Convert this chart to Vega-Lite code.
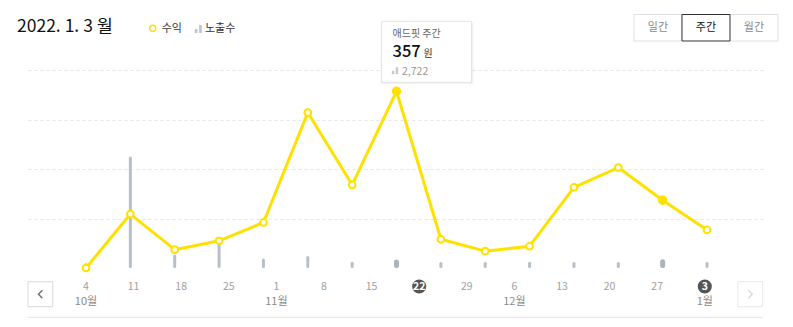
{
  "$schema": "https://vega.github.io/schema/vega-lite/v6.json",
  "width": 735,
  "height": 198,
  "autosize": {"type": "none"},
  "padding": {"left": 28, "top": 70, "right": 30, "bottom": 59},
  "background": "white",
  "config": {"font": "Noto Sans CJK KR", "view": {"stroke": null}},
  "datasets": {
    "weeks": [
      {"i": 0, "rev": 0, "imp": 1500},
      {"i": 1, "rev": 109, "imp": 50000},
      {"i": 2, "rev": 37, "imp": 5500},
      {"i": 3, "rev": 55, "imp": 11200},
      {"i": 4, "rev": 92, "imp": 3600},
      {"i": 5, "rev": 314, "imp": 4800},
      {"i": 6, "rev": 168, "imp": 2150},
      {"i": 7, "rev": 357, "imp": 2722},
      {"i": 8, "rev": 58, "imp": 2050},
      {"i": 9, "rev": 34, "imp": 2000},
      {"i": 10, "rev": 44, "imp": 2150},
      {"i": 11, "rev": 163, "imp": 2100},
      {"i": 12, "rev": 203, "imp": 2050},
      {"i": 13, "rev": 137, "imp": 2800},
      {"i": 14, "rev": 77, "imp": 2100}
    ],
    "ticks": [
      {"k": 0, "day": "4", "month": "10월"},
      {"k": 1, "day": "11", "month": null},
      {"k": 2, "day": "18", "month": null},
      {"k": 3, "day": "25", "month": null},
      {"k": 4, "day": "1", "month": "11월"},
      {"k": 5, "day": "8", "month": null},
      {"k": 6, "day": "15", "month": null},
      {"k": 7, "day": "22", "month": null},
      {"k": 8, "day": "29", "month": null},
      {"k": 9, "day": "6", "month": "12월"},
      {"k": 10, "day": "13", "month": null},
      {"k": 11, "day": "20", "month": null},
      {"k": 12, "day": "27", "month": null},
      {"k": 13, "day": "3", "month": "1월"}
    ]
  },
  "layer": [
    {
      "data": {"name": "weeks"},
      "mark": {"type": "rule", "strokeWidth": 3, "strokeCap": "round", "color": "#b6bfca"},
      "encoding": {
        "x": {"field": "i", "type": "quantitative", "scale": {"domain": [-1.3075, 15.262], "nice": false, "zero": false}, "axis": null},
        "y": {"field": "imp", "type": "quantitative", "scale": {"domain": [0, 90000], "nice": false, "zero": false}, "axis": null},
        "y2": {"datum": 700}
      }
    },
    {
      "data": {"name": "weeks"},
      "transform": [{"filter": "datum.i == 7 || datum.i == 13"}],
      "mark": {"type": "rule", "strokeWidth": 5, "strokeCap": "round", "color": "#aab4c0"},
      "encoding": {
        "x": {"field": "i", "type": "quantitative", "scale": {"domain": [-1.3075, 15.262], "nice": false, "zero": false}, "axis": null},
        "y": {"field": "imp", "type": "quantitative", "scale": {"domain": [0, 90000], "nice": false, "zero": false}, "axis": null},
        "y2": {"datum": 1100}
      }
    },
    {
      "data": {"name": "weeks"},
      "mark": {"type": "line", "color": "#ffe100", "strokeWidth": 3, "strokeJoin": "round"},
      "encoding": {
        "x": {"field": "i", "type": "quantitative", "scale": {"domain": [-1.3075, 15.262], "nice": false, "zero": false}, "axis": null},
        "y": {"field": "rev", "type": "quantitative", "scale": {"domain": [0, 400], "nice": false, "zero": false},
          "axis": {"grid": true, "values": [100, 200, 300, 400], "labels": false, "ticks": false, "domain": false, "title": null, "gridColor": "#e6e6e6", "gridDash": [3, 3]}}
      }
    },
    {
      "data": {"name": "weeks"},
      "mark": {"type": "point", "shape": "circle", "filled": true, "fill": "white", "stroke": "#ffe100", "strokeWidth": 2, "size": 45, "opacity": 1},
      "encoding": {
        "x": {"field": "i", "type": "quantitative", "scale": {"domain": [-1.3075, 15.262], "nice": false, "zero": false}, "axis": null},
        "y": {"field": "rev", "type": "quantitative", "scale": {"domain": [0, 400], "nice": false, "zero": false}, "axis": null}
      }
    },
    {
      "data": {"name": "weeks"},
      "transform": [{"filter": "datum.i == 7 || datum.i == 13"}],
      "mark": {"type": "point", "shape": "circle", "filled": true, "fill": "#ffe100", "stroke": "#ffe100", "strokeWidth": 2, "size": 55, "opacity": 1},
      "encoding": {
        "x": {"field": "i", "type": "quantitative", "scale": {"domain": [-1.3075, 15.262], "nice": false, "zero": false}, "axis": null},
        "y": {"field": "rev", "type": "quantitative", "scale": {"domain": [0, 400], "nice": false, "zero": false}, "axis": null}
      }
    },
    {
      "data": {"name": "weeks"},
      "transform": [{"filter": "datum.i == 7"}],
      "encoding": {
        "x": {"field": "i", "type": "quantitative", "scale": {"domain": [-1.3075, 15.262], "nice": false, "zero": false}, "axis": null},
        "y": {"field": "rev", "type": "quantitative", "scale": {"domain": [0, 400], "nice": false, "zero": false}, "axis": null}
      },
      "layer": [
        {
          "mark": {"type": "rect", "fill": "#000000", "opacity": 0.05, "cornerRadius": 2, "xOffset": -16, "x2Offset": 77, "yOffset": -69, "y2Offset": -7},
          "encoding": {"x2": {"field": "i"}, "y2": {"field": "rev"}}
        },
        {
          "mark": {"type": "rect", "fill": "white", "stroke": "#e2e5e9", "strokeWidth": 1, "xOffset": -15, "x2Offset": 75, "yOffset": -70, "y2Offset": -9},
          "encoding": {"x2": {"field": "i"}, "y2": {"field": "rev"}}
        },
        {
          "mark": {"type": "text", "text": "애드핏 주간", "align": "left", "baseline": "middle", "dx": -4, "dy": -57, "fontSize": 10, "color": "#666666"}
        },
        {
          "mark": {"type": "text", "align": "left", "baseline": "alphabetic", "dx": -4, "dy": -34, "fontSize": 16.5, "fontWeight": 500, "color": "#111111"},
          "encoding": {"text": {"field": "rev", "type": "quantitative"}}
        },
        {
          "mark": {"type": "text", "text": "원", "align": "left", "baseline": "alphabetic", "dx": 27, "dy": -34, "fontSize": 10, "color": "#333333"}
        },
        {
          "mark": {"type": "point", "shape": "M-0.9,1V0H-0.2V1Z M0.2,1V-1H0.9V1Z", "filled": true, "color": "#c3c9d1", "size": 49, "opacity": 1, "xOffset": -1.5, "yOffset": -20.5}
        },
        {
          "mark": {"type": "text", "align": "left", "baseline": "alphabetic", "dx": 5.5, "dy": -16.5, "fontSize": 10.5, "color": "#9a9a9a"},
          "encoding": {"text": {"field": "imp", "type": "quantitative", "format": ","}}
        }
      ]
    },
    {
      "data": {"values": [{}]},
      "mark": {"type": "text", "text": "2022. 1. 3 월", "align": "left", "baseline": "alphabetic", "fontSize": 17.5, "color": "#111111"},
      "encoding": {
        "x": {"datum": -1.5555, "type": "quantitative", "scale": {"domain": [-1.3075, 15.262], "nice": false, "zero": false}, "axis": null},
        "y": {"datum": 477.4, "type": "quantitative", "scale": {"domain": [0, 400], "nice": false, "zero": false}, "axis": null}
      }
    },
    {
      "data": {"values": [{}]},
      "mark": {"type": "point", "shape": "circle", "filled": true, "fill": "white", "stroke": "#ffdd00", "strokeWidth": 1.5, "size": 38, "opacity": 1},
      "encoding": {
        "x": {"datum": 1.5036, "type": "quantitative", "scale": {"domain": [-1.3075, 15.262], "nice": false, "zero": false}, "axis": null},
        "y": {"datum": 484.2, "type": "quantitative", "scale": {"domain": [0, 400], "nice": false, "zero": false}, "axis": null}
      }
    },
    {
      "data": {"values": [{}]},
      "mark": {"type": "text", "text": "수익", "align": "left", "baseline": "middle", "fontSize": 11, "color": "#333333"},
      "encoding": {
        "x": {"datum": 1.7065, "type": "quantitative", "scale": {"domain": [-1.3075, 15.262], "nice": false, "zero": false}, "axis": null},
        "y": {"datum": 483.2, "type": "quantitative", "scale": {"domain": [0, 400], "nice": false, "zero": false}, "axis": null}
      }
    },
    {
      "data": {"values": [{}]},
      "mark": {"type": "point", "shape": "M-0.9,1V0H-0.2V1Z M0.2,1V-1H0.9V1Z", "filled": true, "color": "#c0c7d0", "size": 64, "opacity": 1},
      "encoding": {
        "x": {"datum": 2.5315, "type": "quantitative", "scale": {"domain": [-1.3075, 15.262], "nice": false, "zero": false}, "axis": null},
        "y": {"datum": 482.8, "type": "quantitative", "scale": {"domain": [0, 400], "nice": false, "zero": false}, "axis": null}
      }
    },
    {
      "data": {"values": [{}]},
      "mark": {"type": "text", "text": "노출수", "align": "left", "baseline": "middle", "fontSize": 11, "color": "#333333"},
      "encoding": {
        "x": {"datum": 2.6825, "type": "quantitative", "scale": {"domain": [-1.3075, 15.262], "nice": false, "zero": false}, "axis": null},
        "y": {"datum": 483.2, "type": "quantitative", "scale": {"domain": [0, 400], "nice": false, "zero": false}, "axis": null}
      }
    },
    {
      "data": {"values": [{}]},
      "mark": {"type": "rect", "fill": "white", "stroke": "#dde0e5", "strokeWidth": 1},
      "encoding": {
        "x": {"datum": 12.3535, "type": "quantitative", "scale": {"domain": [-1.3075, 15.262], "nice": false, "zero": false}, "axis": null},
        "x2": {"datum": 13.4355},
        "y": {"datum": 512.1, "type": "quantitative", "scale": {"domain": [0, 400], "nice": false, "zero": false}, "axis": null},
        "y2": {"datum": 458.6}
      }
    },
    {
      "data": {"values": [{}]},
      "mark": {"type": "rect", "fill": "white", "stroke": "#dde0e5", "strokeWidth": 1},
      "encoding": {
        "x": {"datum": 14.5175, "type": "quantitative", "scale": {"domain": [-1.3075, 15.262], "nice": false, "zero": false}, "axis": null},
        "x2": {"datum": 15.5995},
        "y": {"datum": 512.1, "type": "quantitative", "scale": {"domain": [0, 400], "nice": false, "zero": false}, "axis": null},
        "y2": {"datum": 458.6}
      }
    },
    {
      "data": {"values": [{}]},
      "mark": {"type": "rect", "fill": "white", "stroke": "#333333", "strokeWidth": 1},
      "encoding": {
        "x": {"datum": 13.4355, "type": "quantitative", "scale": {"domain": [-1.3075, 15.262], "nice": false, "zero": false}, "axis": null},
        "x2": {"datum": 14.5175},
        "y": {"datum": 512.1, "type": "quantitative", "scale": {"domain": [0, 400], "nice": false, "zero": false}, "axis": null},
        "y2": {"datum": 458.6}
      }
    },
    {
      "data": {"values": [{}]},
      "mark": {"type": "text", "text": "일간", "align": "center", "baseline": "middle", "fontSize": 11, "color": "#888888"},
      "encoding": {
        "x": {"datum": 12.8945, "type": "quantitative", "scale": {"domain": [-1.3075, 15.262], "nice": false, "zero": false}, "axis": null},
        "y": {"datum": 484.8, "type": "quantitative", "scale": {"domain": [0, 400], "nice": false, "zero": false}, "axis": null}
      }
    },
    {
      "data": {"values": [{}]},
      "mark": {"type": "text", "text": "주간", "align": "center", "baseline": "middle", "fontSize": 11, "color": "#111111"},
      "encoding": {
        "x": {"datum": 13.9765, "type": "quantitative", "scale": {"domain": [-1.3075, 15.262], "nice": false, "zero": false}, "axis": null},
        "y": {"datum": 484.8, "type": "quantitative", "scale": {"domain": [0, 400], "nice": false, "zero": false}, "axis": null}
      }
    },
    {
      "data": {"values": [{}]},
      "mark": {"type": "text", "text": "월간", "align": "center", "baseline": "middle", "fontSize": 11, "color": "#888888"},
      "encoding": {
        "x": {"datum": 15.0585, "type": "quantitative", "scale": {"domain": [-1.3075, 15.262], "nice": false, "zero": false}, "axis": null},
        "y": {"datum": 484.8, "type": "quantitative", "scale": {"domain": [0, 400], "nice": false, "zero": false}, "axis": null}
      }
    },
    {
      "data": {"values": [{}]},
      "mark": {"type": "rect", "fill": "white", "stroke": "#d5d9df", "strokeWidth": 1},
      "encoding": {
        "x": {"datum": -1.3075, "type": "quantitative", "scale": {"domain": [-1.3075, 15.262], "nice": false, "zero": false}, "axis": null},
        "x2": {"datum": -0.7507},
        "y": {"datum": -27.7, "type": "quantitative", "scale": {"domain": [0, 400], "nice": false, "zero": false}, "axis": null},
        "y2": {"datum": -78.2}
      }
    },
    {
      "data": {"values": [{}]},
      "mark": {"type": "rect", "fill": "white", "stroke": "#e6e9ed", "strokeWidth": 1},
      "encoding": {
        "x": {"datum": 14.6975, "type": "quantitative", "scale": {"domain": [-1.3075, 15.262], "nice": false, "zero": false}, "axis": null},
        "x2": {"datum": 15.2545},
        "y": {"datum": -27.7, "type": "quantitative", "scale": {"domain": [0, 400], "nice": false, "zero": false}, "axis": null},
        "y2": {"datum": -78.2}
      }
    },
    {
      "data": {"values": [{}]},
      "mark": {"type": "point", "shape": "M0.5,-1L-0.5,0L0.5,1", "filled": false, "stroke": "#666666", "strokeWidth": 1.3, "size": 64, "opacity": 1},
      "encoding": {
        "x": {"datum": -1.028, "type": "quantitative", "scale": {"domain": [-1.3075, 15.262], "nice": false, "zero": false}, "axis": null},
        "y": {"datum": -52.9, "type": "quantitative", "scale": {"domain": [0, 400], "nice": false, "zero": false}, "axis": null}
      }
    },
    {
      "data": {"values": [{}]},
      "mark": {"type": "point", "shape": "M-0.5,-1L0.5,0L-0.5,1", "filled": false, "stroke": "#d4d8dd", "strokeWidth": 1.3, "size": 64, "opacity": 1},
      "encoding": {
        "x": {"datum": 14.9755, "type": "quantitative", "scale": {"domain": [-1.3075, 15.262], "nice": false, "zero": false}, "axis": null},
        "y": {"datum": -52.9, "type": "quantitative", "scale": {"domain": [0, 400], "nice": false, "zero": false}, "axis": null}
      }
    },
    {
      "data": {"values": [{}]},
      "mark": {"type": "rule", "color": "#e3e3e3", "strokeWidth": 1},
      "encoding": {
        "x": {"datum": -1.3075, "type": "quantitative", "scale": {"domain": [-1.3075, 15.262], "nice": false, "zero": false}, "axis": null},
        "x2": {"datum": 15.262},
        "y": {"datum": -99.6, "type": "quantitative", "scale": {"domain": [0, 400], "nice": false, "zero": false}, "axis": null}
      }
    },
    {
      "data": {"name": "ticks"},
      "mark": {"type": "text", "align": "center", "baseline": "middle", "fontSize": 10.5, "color": "#a0a0a0"},
      "encoding": {
        "x": {"field": "k", "type": "quantitative", "scale": {"domain": [-1.2185, 14.223], "nice": false, "zero": false}, "axis": null},
        "y": {"datum": -37.4, "type": "quantitative", "scale": {"domain": [0, 400], "nice": false, "zero": false}, "axis": null},
        "text": {"field": "day", "type": "nominal"}
      }
    },
    {
      "data": {"name": "ticks"},
      "transform": [{"filter": "isValid(datum.month)"}],
      "mark": {"type": "text", "align": "center", "baseline": "middle", "fontSize": 11, "color": "#8a8a8a"},
      "encoding": {
        "x": {"field": "k", "type": "quantitative", "scale": {"domain": [-1.2185, 14.223], "nice": false, "zero": false}, "axis": null},
        "y": {"datum": -69.3, "type": "quantitative", "scale": {"domain": [0, 400], "nice": false, "zero": false}, "axis": null},
        "text": {"field": "month", "type": "nominal"}
      }
    },
    {
      "data": {"name": "ticks"},
      "transform": [{"filter": "datum.k == 7 || datum.k == 13"}],
      "mark": {"type": "point", "shape": "circle", "filled": true, "color": "#555555", "size": 200, "opacity": 1},
      "encoding": {
        "x": {"field": "k", "type": "quantitative", "scale": {"domain": [-1.2185, 14.223], "nice": false, "zero": false}, "axis": null},
        "y": {"datum": -37.4, "type": "quantitative", "scale": {"domain": [0, 400], "nice": false, "zero": false}, "axis": null}
      }
    },
    {
      "data": {"name": "ticks"},
      "transform": [{"filter": "datum.k == 7 || datum.k == 13"}],
      "mark": {"type": "text", "align": "center", "baseline": "middle", "fontSize": 10.5, "fontWeight": "bold", "color": "white"},
      "encoding": {
        "x": {"field": "k", "type": "quantitative", "scale": {"domain": [-1.2185, 14.223], "nice": false, "zero": false}, "axis": null},
        "y": {"datum": -37.4, "type": "quantitative", "scale": {"domain": [0, 400], "nice": false, "zero": false}, "axis": null},
        "text": {"field": "day", "type": "nominal"}
      }
    }
  ],
  "resolve": {"scale": {"x": "independent", "y": "independent"}}
}
